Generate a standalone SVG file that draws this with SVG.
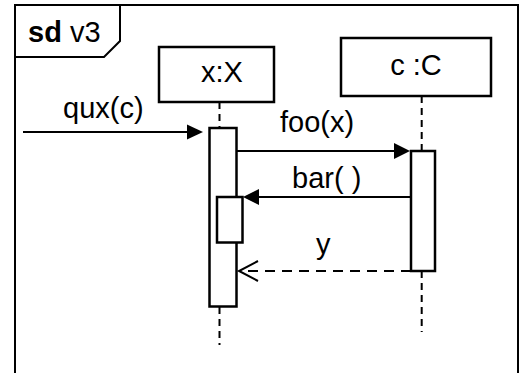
<svg xmlns="http://www.w3.org/2000/svg" width="525" height="373" viewBox="0 0 525 373">
<style>
.t{font-family:"Liberation Sans",Arial,sans-serif;font-size:29px;fill:#000}
.b{fill:#fff;stroke:#000;stroke-width:2.5}
.ln{stroke:#000;stroke-width:2;fill:none}
.ll{stroke:#000;stroke-width:2;stroke-dasharray:7 5;fill:none}
.dash{stroke:#000;stroke-width:2;stroke-dasharray:10 7;fill:none}
.head{fill:#000;stroke:none}
</style>
<rect width="525" height="373" fill="#fff"/>
<g id="frame">
<path class="ln" d="M15,380 L15,5 L518,5 L518,380" stroke-width="2.5"/>
<polyline class="ln" points="15,57 104,57 120,41 120,5" stroke-width="2.5"/>
<text class="t" x="28" y="42"><tspan font-weight="bold">sd</tspan> v3</text>
</g>
<g id="x">
<line class="ll" x1="219.5" y1="102" x2="219.5" y2="128"/>
<line class="ll" x1="219.5" y1="307" x2="219.5" y2="345"/>
<rect class="b" x="159" y="47" width="115" height="55"/>
<text class="t" x="222" y="82" text-anchor="middle">x:X</text>
<rect class="b" x="209.5" y="128" width="27" height="178.5"/>
<rect class="b" x="217" y="197" width="25.5" height="45.5"/>
</g>
<g id="c">
<line class="ll" x1="421.7" y1="96" x2="421.7" y2="151"/>
<line class="ll" x1="421.7" y1="271" x2="421.7" y2="332"/>
<rect class="b" x="341" y="38" width="150" height="58"/>
<text class="t" x="416" y="75" text-anchor="middle">c :C</text>
<rect class="b" x="411" y="151" width="24" height="120"/>
</g>
<g id="connectors">
<line class="ln" x1="23" y1="132" x2="190" y2="132"/>
<polygon class="head" points="203,132 187,124.5 187,139.5"/>
<text class="t" x="63" y="118">qux(c)</text>
<line class="ln" x1="237" y1="151" x2="396" y2="151"/>
<polygon class="head" points="410,151 394,143 394,159"/>
<text class="t" x="280" y="132">foo(x)</text>
<line class="ln" x1="411" y1="197" x2="257" y2="197"/>
<polygon class="head" points="243,197 259,189 259,205"/>
<text class="t" x="292" y="188">bar( )</text>
<line class="dash" x1="411" y1="271" x2="240" y2="271"/>
<polyline class="ln" points="258,261 239,271 258,281"/>
<text class="t" x="316" y="254">y</text>
</g>
</svg>
